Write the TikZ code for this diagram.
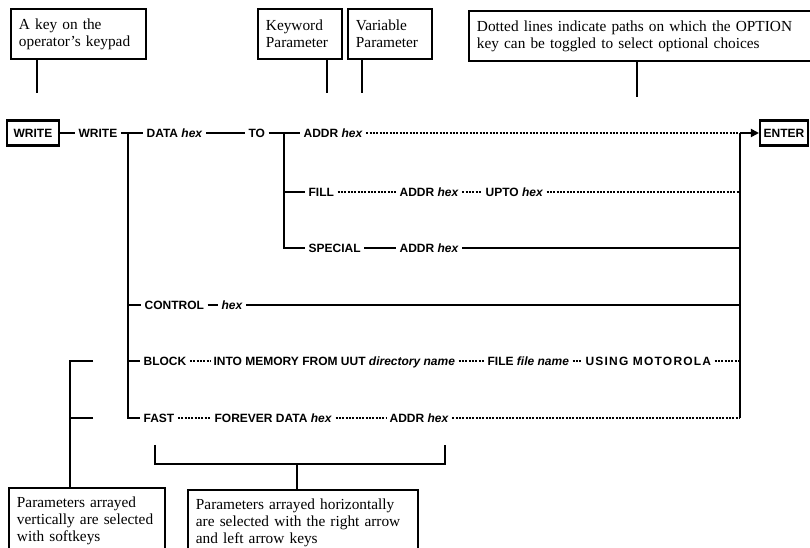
\documentclass[tikz,border=0pt]{standalone}
\usepackage{fontspec}
\setmainfont{Liberation Serif}
\setsansfont{Liberation Sans}
\newfontfamily\kwfont{Liberation Sans}
\usetikzlibrary{arrows.meta}
\begin{document}
\begin{tikzpicture}[x=0.75pt,y=-0.75pt,
  kw/.style={font=\kwfont\bfseries\fontsize{9}{10}\selectfont, inner xsep=2.5pt, inner ysep=0pt, text height=6.5pt, text depth=0pt, anchor=west},
  keybox/.style={draw, line width=1.6pt, font=\kwfont\bfseries\fontsize{9}{10}\selectfont, inner sep=0pt, text height=6.5pt, text depth=0pt, minimum height=18.75pt},
  note/.style={draw, line width=1.4pt, font=\fontsize{11.5}{12.8}\selectfont, align=left, inner xsep=6pt, anchor=north west},
  ln/.style={line width=1.4pt},
  dots/.style={line width=1.3pt, dash pattern=on 1.5pt off 1pt}
]
\useasboundingbox (0,0) rectangle (810,548);

% top notes
\node[note, text width=89.25pt, minimum height=37.5pt] (nA) at (10,8) {A key on the\\operator's keypad};
\node[note, text width=51pt, minimum height=37.5pt] (nK) at (257,8) {Keyword\\Parameter};
\node[note, text width=51pt, minimum height=37.5pt] (nV) at (347,8) {Variable\\Parameter};
\node[note, text width=246pt, minimum height=37.5pt] (nD) at (468,10) {Dotted lines indicate paths on which the OPTION\\key can be toggled to select optional choices};
\coordinate (sA) at (37,93);
\coordinate (sK) at (327,93);
\coordinate (sV) at (362,93);
\coordinate (sD) at (637,97);
\draw[ln] (sA |- nA.south) -- (sA);
\draw[ln] (sK |- nK.south) -- (sK);
\draw[ln] (sV |- nV.south) -- (sV);
\draw[ln] (sD |- nD.south) -- (sD);

% main row
\node[keybox, minimum width=39pt] (kWrite) at (33,133) {WRITE};
\node[kw] (write) at (75,133) {WRITE};
\coordinate (t1) at (128,133);
\node[kw] (data) at (143,133) {DATA \textit{hex}};
\node[kw] (to) at (245,133) {TO};
\coordinate (t2) at (284,133);
\node[kw] (addr1) at (300,133) {ADDR \textit{hex}};
\coordinate (rj) at (740,133);
\node[keybox, minimum width=36pt] (enter) at (784,133) {ENTER};

\draw[ln] (kWrite.east) -- (write.west);
\draw[ln] (write.east) -- (data.west);
\draw[ln] (data.east) -- (to.west);
\draw[ln] (to.east) -- (addr1.west);
\draw[dots] (addr1.east) -- (rj);
\draw[ln, -{Triangle[length=6pt,width=6pt]}] (rj) -- (enter.west);

% FILL row
\node[kw] (fill) at (305,192) {FILL};
\node[kw] (addr2) at (396,192) {ADDR \textit{hex}};
\node[kw] (upto) at (482,192) {UPTO \textit{hex}};
\draw[ln] (t2 |- fill) -- (fill.west);
\draw[dots] (fill.east) -- (addr2.west);
\draw[dots] (addr2.east) -- (upto.west);
\draw[dots] (upto.east) -- (upto.east -| rj);

% SPECIAL row
\node[kw] (special) at (305,248) {SPECIAL};
\node[kw] (addr3) at (396,248) {ADDR \textit{hex}};
\draw[ln] (t2) |- (special.west);
\draw[ln] (special.east) -- (addr3.west);
\draw[ln] (addr3.east) -- (addr3.east -| rj);

% CONTROL row
\node[kw] (control) at (141,305) {CONTROL};
\node[kw] (chex) at (218,305) {\textit{hex}};
\draw[ln] (control.east) -- (chex.west);
\draw[ln] (chex.east) -- (chex.east -| rj);

% BLOCK row
\node[kw] (block) at (140,361) {BLOCK};
\node[kw] (into) at (210,361) {INTO MEMORY FROM UUT \textit{directory name}};
\node[kw] (file) at (484,361) {FILE \textit{file name}};
\node[kw] (using) at (582,361) {\addfontfeature{LetterSpace=10}USING MOTOROLA};
\draw[dots] (block.east) -- (into.west);
\draw[dots] (into.east) -- (file.west);
\draw[dots] (file.east) -- (using.west);
\draw[dots] (using.east) -- (using.east -| rj);

% FAST row
\node[kw] (fast) at (140,418) {FAST};
\node[kw] (forever) at (211,418) {FOREVER DATA \textit{hex}};
\node[kw] (addr4) at (386,418) {ADDR \textit{hex}};
\draw[dots] (fast.east) -- (forever.west);
\draw[dots] (forever.east) -- (addr4.west);
\draw[dots] (addr4.east) -- (addr4.east -| rj);

% left trunk and right collector
\draw[ln] (t1) |- (fast.west);
\draw[ln] (t1 |- control) -- (control.west);
\draw[ln] (t1 |- block) -- (block.west);
\draw[ln] (rj) -- (rj |- fast);

% bottom notes
\node[note, text width=105pt, minimum height=48.75pt] (nL) at (8,487) {Parameters arrayed\\vertically are selected\\with softkeys};
\node[note, text width=160.5pt, minimum height=48.75pt] (nM) at (187,489) {Parameters arrayed horizontally\\are selected with the right arrow\\and left arrow keys};

% left bracket
\coordinate (lbTop) at (93,361);
\coordinate (lbBot) at (93,418);
\coordinate (lbA) at (70,361);
\draw[ln] (lbTop) -- (lbA) -- (lbA |- nL.north);
\draw[ln] (lbBot) -- (lbA |- lbBot);

% bottom bracket
\coordinate (bbL) at (155,445);
\coordinate (bbR) at (445,445);
\coordinate (bbS) at (297,464);
\draw[ln] (bbL) |- (bbS) -| (bbR);
\draw[ln] (bbS) -- (bbS |- nM.north);
\end{tikzpicture}
\end{document}
